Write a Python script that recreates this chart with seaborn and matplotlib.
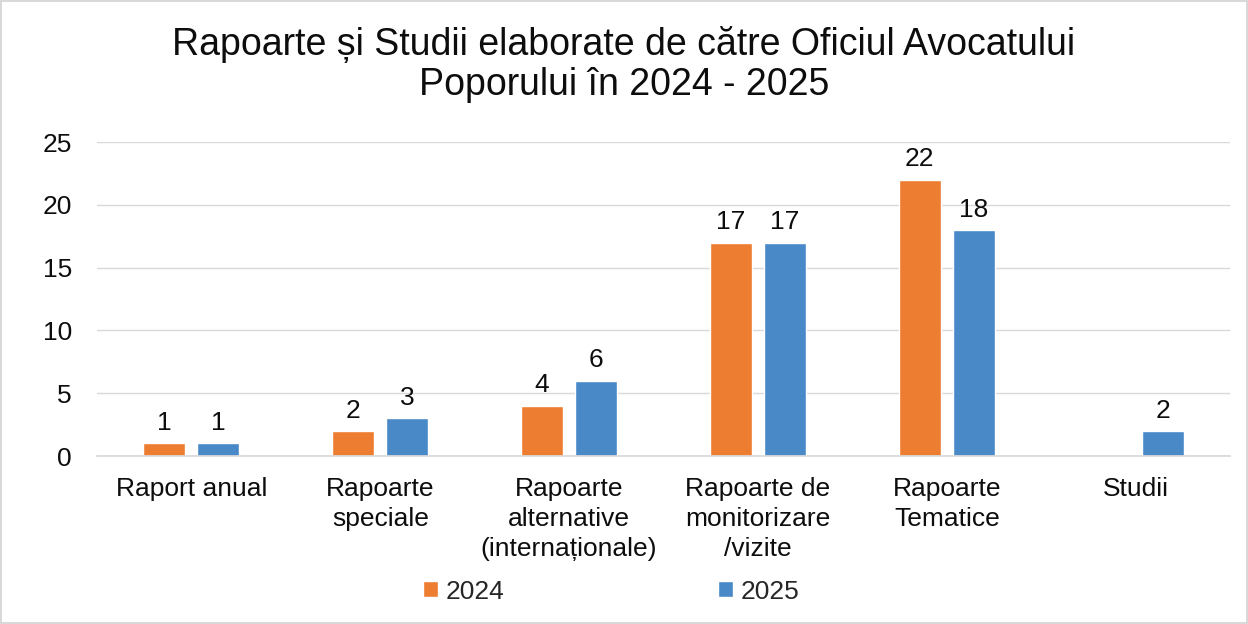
import pandas as pd
import numpy as np
import matplotlib
matplotlib.use('Agg')
import matplotlib.pyplot as plt
import seaborn as sns

# ── Data ──────────────────────────────────────────────
categories = ['Raport anual', 'Rapoarte\nspeciale', 'Rapoarte\nalternative\n(internaționale)',
              'Rapoarte de\nmonitorizare\n/vizite', 'Rapoarte\nTematice', 'Studii']
vals_2024 = [1, 2, 4, 17, 22, np.nan]
vals_2025 = [1, 3, 6, 17, 18, 2]
years = ['2024', '2025']
colors = ['#ED7D31', '#4A89C8']

df = pd.DataFrame({
    'cat': categories * 2,
    'year': ['2024'] * len(categories) + ['2025'] * len(categories),
    'val': vals_2024 + vals_2025,
}).dropna()

sns.set_theme(style='white')
plt.rcParams['font.family'] = ['Liberation Sans', 'DejaVu Sans']
TXT = '#0d0d0d'

fig = plt.figure(figsize=(12.48, 6.24), dpi=100)
fig.patch.set_edgecolor('#d9d9d9')
fig.patch.set_linewidth(1.5)
ax = fig.add_axes([0.0777, 0.2692, 0.9079, 0.5032])

sns.barplot(data=df, x='cat', y='val', hue='year', order=categories, hue_order=years,
            palette=colors, width=0.57, gap=0.22, saturation=1, ax=ax)

for c in ax.containers:
    ax.bar_label(c, fmt='%g', padding=6, fontsize=19, color=TXT)

ax.set_ylim(0, 25)
ax.set_yticks(range(0, 26, 5))
ax.set_xlim(-0.5, len(categories) - 0.5)
ax.yaxis.grid(True, color='#d9d9d9', linewidth=1)
ax.set_axisbelow(True)
for s in ['left', 'right', 'top']:
    ax.spines[s].set_visible(False)
ax.spines['bottom'].set_color('#d9d9d9')
ax.tick_params(axis='both', labelsize=19, colors=TXT, length=0)
ax.tick_params(axis='x', pad=15)
ax.tick_params(axis='y', pad=18)
for t in ax.get_xticklabels():
    t.set_linespacing(1.33)
ax.set_xlabel('')
ax.set_ylabel('')

fig.suptitle('Rapoarte și Studii elaborate de către Oficiul Avocatului\nPoporului în 2024 - 2025',
             fontsize=27, color=TXT, y=0.958, linespacing=1.12)

ax.legend(loc='center', bbox_to_anchor=(0.49, 0.052), bbox_transform=fig.transFigure,
          ncol=2, frameon=False, fontsize=19, handlelength=0.55, handleheight=0.55,
          columnspacing=8.1, handletextpad=0.3)

fig.savefig('out.png', dpi=100)
